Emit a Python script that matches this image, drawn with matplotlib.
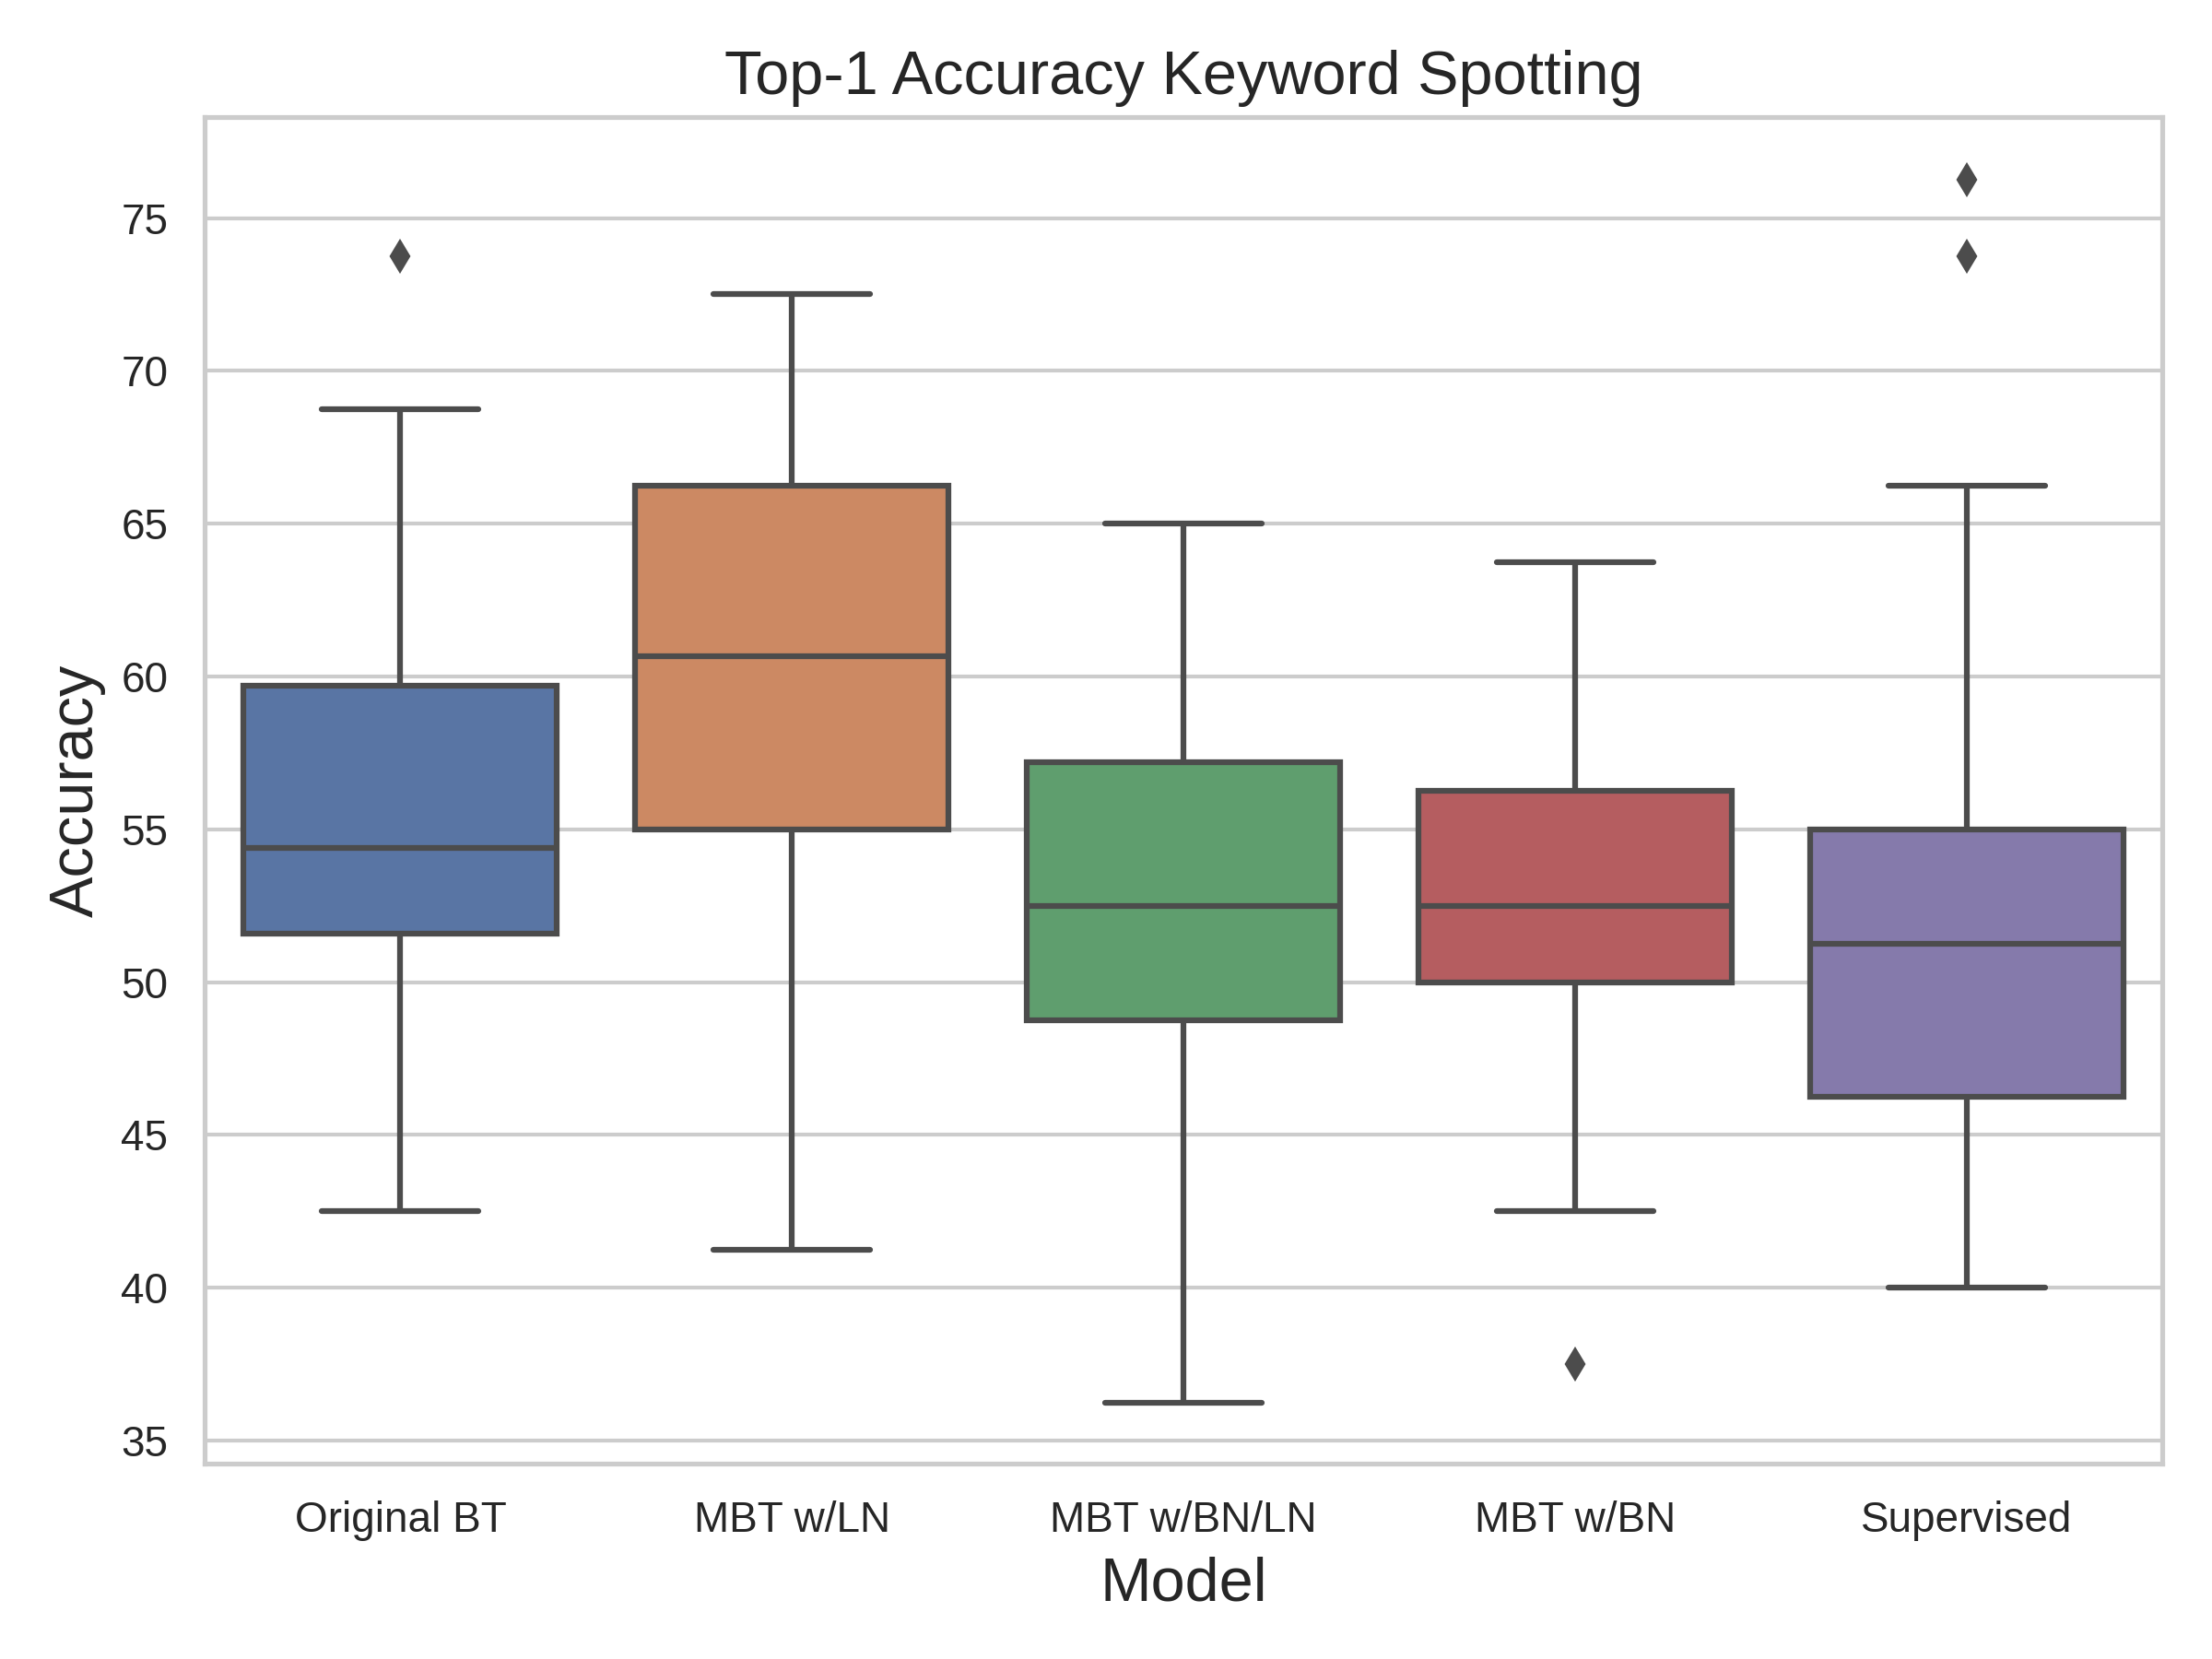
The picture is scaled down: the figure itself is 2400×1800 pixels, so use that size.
import numpy as np
import matplotlib
matplotlib.use("Agg")
import matplotlib.pyplot as plt
import seaborn as sns

sns.set_theme(style="whitegrid")
plt.rcParams['font.family'] = ['Liberation Sans', 'DejaVu Sans']

# Box statistics
models = ["Original BT", "MBT w/LN", "MBT w/BN/LN", "MBT w/BN", "Supervised"]
whisker_low = [42.5, 41.25, 36.25, 42.5, 40.0]
q1 = [51.6, 55.0, 48.75, 50.0, 46.25]
median = [54.4, 60.65, 52.5, 52.5, 51.25]
q3 = [59.7, 66.25, 57.2, 56.25, 55.0]
whisker_high = [68.75, 72.5, 65.0, 63.75, 66.25]
outliers = [[73.75], [], [], [37.5], [76.25, 73.75]]

# seaborn's old boxplot desaturates the palette
colors = [sns.desaturate(c, 0.75) for c in sns.color_palette("deep", len(models))]
gray = "#4c4c4c"

stats = []
for i, name in enumerate(models):
    stats.append({
        "label": name,
        "whislo": whisker_low[i],
        "q1": q1[i],
        "med": median[i],
        "q3": q3[i],
        "whishi": whisker_high[i],
        "fliers": outliers[i],
    })

fig, ax = plt.subplots(figsize=(8, 6), dpi=300)
fig.subplots_adjust(left=0.0925, right=0.9775, top=0.9294, bottom=0.1178)

lw = 1.5
art = ax.bxp(
    stats,
    positions=np.arange(len(models)),
    widths=0.8,
    capwidths=0.4,
    patch_artist=True,
    boxprops=dict(edgecolor=gray, linewidth=lw),
    whiskerprops=dict(color=gray, linewidth=lw, solid_capstyle="butt"),
    capprops=dict(color=gray, linewidth=lw, solid_capstyle="round"),
    medianprops=dict(color=gray, linewidth=lw),
    flierprops=dict(marker="d", markerfacecolor=gray, markeredgecolor=gray,
                    markersize=5, linestyle="none"),
)
for patch, c in zip(art["boxes"], colors):
    patch.set_facecolor(c)
    patch.set_zorder(2)

ax.set_xlim(-0.5, len(models) - 0.5)
ax.set_ylim(34.25, 78.3)
ax.set_yticks([35, 40, 45, 50, 55, 60, 65, 70, 75])
ax.tick_params(axis="both", labelsize=11)
ax.xaxis.grid(False)
ax.set_axisbelow(True)

ax.set_title("Top-1 Accuracy Keyword Spotting", fontsize=16)
ax.set_xlabel("Model", fontsize=16)
ax.set_ylabel("Accuracy", fontsize=16)

fig.savefig("out.png", dpi=300)
